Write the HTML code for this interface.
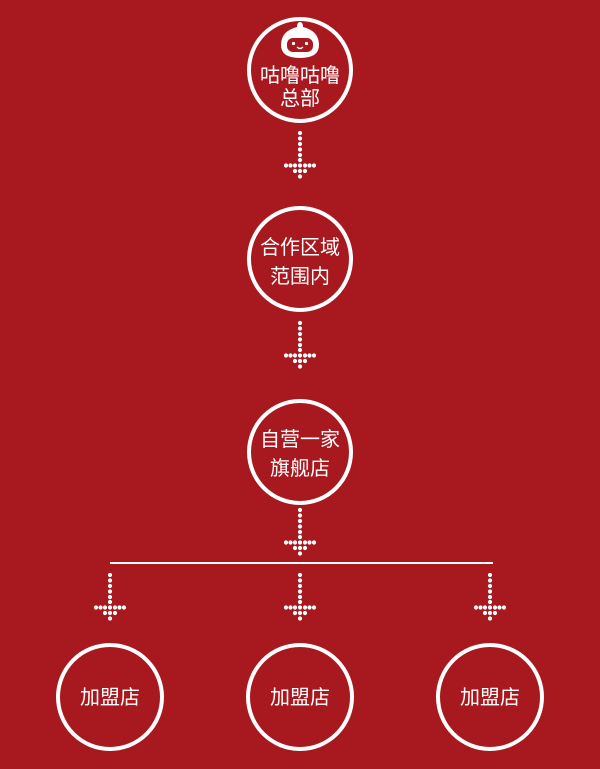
<!DOCTYPE html>
<html><head><meta charset="utf-8"><style>
html,body{margin:0;padding:0;background:#a8181f;}
svg{display:block}
text{font-family:"Liberation Sans","Noto Sans CJK SC",sans-serif;fill:#fff;font-size:20px;text-anchor:middle}
</style></head><body>
<svg width="600" height="769" viewBox="0 0 600 769">
<rect width="600" height="769" fill="#a8181f"/>
<defs>
<g id="arr" fill="#fff">
<circle cx="0" cy="0" r="2.1"/><circle cx="0" cy="5.5" r="2.1"/><circle cx="0" cy="11" r="2.1"/><circle cx="0" cy="16.5" r="2.1"/><circle cx="0" cy="22" r="2.1"/><circle cx="0" cy="27" r="2.1"/>
<circle cx="-14" cy="32.5" r="2.1"/><circle cx="-9.5" cy="32.5" r="2.1"/><circle cx="-5" cy="32.5" r="2.1"/><circle cx="0" cy="32.5" r="2.1"/><circle cx="5" cy="32.5" r="2.1"/><circle cx="9.5" cy="32.5" r="2.1"/><circle cx="14" cy="32.5" r="2.1"/>
<circle cx="-5" cy="38" r="2.1"/><circle cx="0" cy="38" r="2.1"/><circle cx="5" cy="38" r="2.1"/>
<circle cx="0" cy="43.5" r="2.1"/>
</g>
</defs>
<g fill="none" stroke="#fff" stroke-width="4">
<circle cx="300" cy="70" r="51"/>
<circle cx="300" cy="259" r="51"/>
<circle cx="300" cy="452" r="51"/>
<circle cx="110" cy="697" r="52"/>
<circle cx="300" cy="697" r="52"/>
<circle cx="490" cy="697" r="52"/>
</g>
<line x1="110" y1="563" x2="493" y2="563" stroke="#fff" stroke-width="2"/>
<use href="#arr" x="300" y="133"/>
<use href="#arr" x="300" y="323"/>
<use href="#arr" x="300" y="510"/>
<use href="#arr" x="110" y="575"/>
<use href="#arr" x="300" y="575"/>
<use href="#arr" x="490" y="575"/>
<path d="M300 22 q-3 0 -3 5 q-16 4 -16 18 q0 13 19 13 q19 0 19 -13 q0 -14 -16 -18 q0 -5 -3 -5z" fill="#fff"/>
<rect x="287" y="38" width="26" height="14" rx="6" fill="#a8181f"/>
<circle cx="293.5" cy="43.5" r="1.6" fill="#fff"/><circle cx="306.5" cy="43.5" r="1.6" fill="#fff"/>
<path d="M297 47 q3 3 6 0" stroke="#fff" stroke-width="1.3" fill="none"/>
<text x="300" y="82">咕噜咕噜</text>
<text x="300" y="105">总部</text>
<text x="300" y="254">合作区域</text>
<text x="300" y="283">范围内</text>
<text x="300" y="446">自营一家</text>
<text x="300" y="475">旗舰店</text>
<text x="110" y="704">加盟店</text>
<text x="300" y="704">加盟店</text>
<text x="490" y="704">加盟店</text>
</svg>
</body></html>
